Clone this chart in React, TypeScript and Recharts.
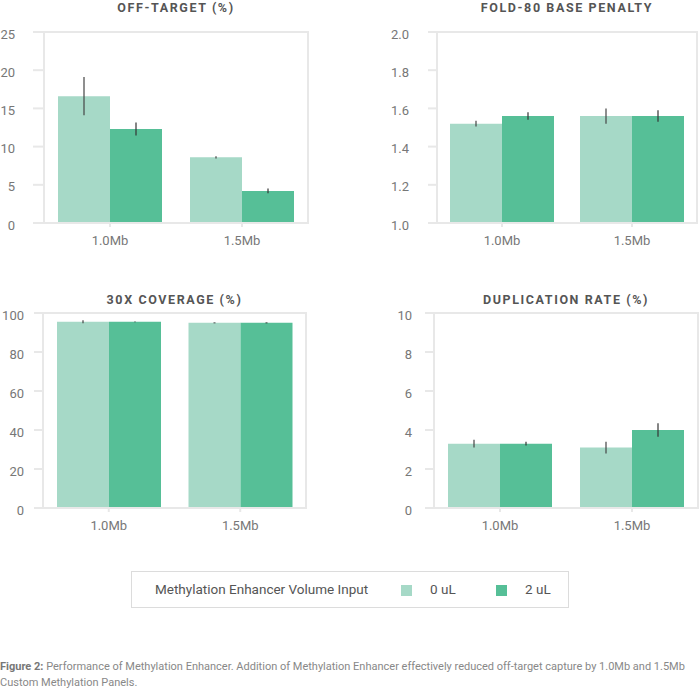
import React from "react";
import { BarChart, Bar, XAxis, YAxis, ErrorBar, ReferenceArea } from "recharts";

const categories = ["1.0Mb", "1.5Mb"];

const offTarget0 = [16.6, 8.6];
const offTarget0Err = [2.5, 0.15];
const offTarget2 = [12.3, 4.2];
const offTarget2Err = [0.85, 0.3];

const fold0 = [1.52, 1.56];
const fold0Err = [0.015, 0.04];
const fold2 = [1.56, 1.56];
const fold2Err = [0.02, 0.03];

const coverage0 = [95.5, 95];
const coverage0Err = [0.8, 0.4];
const coverage2 = [95.5, 95];
const coverage2Err = [0.2, 0.4];

const dup0 = [3.3, 3.1];
const dup0Err = [0.2, 0.3];
const dup2 = [3.3, 4.0];
const dup2Err = [0.1, 0.35];

const offTargetTicks = [0, 5, 10, 15, 20, 25];
const foldTicks = [1.0, 1.2, 1.4, 1.6, 1.8, 2.0];
const coverageTicks = [0, 20, 40, 60, 80, 100];
const dupTicks = [0, 2, 4, 6, 8, 10];

const LIGHT = "#a6d9c7";
const DARK = "#56bf97";
const FRAME = "#e8e8e8";
const FONT = "Roboto, sans-serif";

const build = (a: number[], ae: number[], b: number[], be: number[]) =>
  categories.map((name, i) => ({ name, v0: a[i], e0: ae[i], v2: b[i], e2: be[i] }));

type PanelProps = {
  title: string;
  titleTop: number;
  left: number;
  top: number;
  data: any[];
  ticks: number[];
  fmt?: (v: number) => string;
  yWidth: number;
  tickSize: number;
  tickMargin: number;
  marginTop: number;
  marginRight: number;
  marginBottom: number;
};

const W = 350;
const H = 260;

const Panel = (p: PanelProps) => {
  const lo = p.ticks[0];
  const hi = p.ticks[p.ticks.length - 1];
  const plotLeft = p.yWidth;
  const plotRight = W - p.marginRight;
  return (
    <div style={{ position: "absolute", left: p.left, top: p.top, width: W, height: H }}>
      <div
        style={{
          position: "absolute",
          top: p.titleTop,
          left: plotLeft,
          width: plotRight - plotLeft,
          textAlign: "center",
          fontWeight: 700,
          fontSize: 12.5,
          letterSpacing: 1.6,
          color: "#555",
          fontFamily: FONT,
        }}
      >
        {p.title}
      </div>
      <BarChart
        width={W}
        height={H}
        data={p.data}
        barSize={52}
        barGap={0}
        margin={{ top: p.marginTop, right: p.marginRight, left: 0, bottom: p.marginBottom }}
      >
        <ReferenceArea y1={lo} y2={hi} fill="none" stroke={FRAME} strokeWidth={2} />
        <XAxis
          dataKey="name"
          height={30}
          tickSize={4}
          tickMargin={9}
          axisLine={{ stroke: FRAME, strokeWidth: 2 }}
          tickLine={{ stroke: FRAME, strokeWidth: 2 }}
          tick={{ fill: "#777", fontSize: 13, fontFamily: FONT }}
        />
        <YAxis
          width={p.yWidth}
          domain={[lo, hi]}
          ticks={p.ticks}
          interval={0}
          tickFormatter={p.fmt}
          tickSize={p.tickSize}
          tickMargin={p.tickMargin}
          axisLine={{ stroke: FRAME, strokeWidth: 2 }}
          tickLine={{ stroke: FRAME, strokeWidth: 2 }}
          tick={{ fill: "#777", fontSize: 13, fontFamily: FONT, dy: 2 }}
        />
        <Bar dataKey="v0" fill={LIGHT} isAnimationActive={false}>
          <ErrorBar dataKey="e0" width={0} stroke="#444" strokeOpacity={0.6} strokeWidth={2} direction="y" />
        </Bar>
        <Bar dataKey="v2" fill={DARK} isAnimationActive={false}>
          <ErrorBar dataKey="e2" width={0} stroke="#333" strokeOpacity={0.6} strokeWidth={2} direction="y" />
        </Bar>
      </BarChart>
    </div>
  );
};

const App = () => {
  return (
    <div
      style={{
        position: "absolute",
        left: 0,
        top: 0,
        width: 700,
        height: 696,
        background: "#fff",
        fontFamily: FONT,
        overflow: "hidden",
      }}
    >
      <Panel
        title="OFF-TARGET (%)"
        titleTop={0}
        left={0}
        top={0}
        data={build(offTarget0, offTarget0Err, offTarget2, offTarget2Err)}
        ticks={offTargetTicks}
        yWidth={44}
        tickSize={11}
        tickMargin={18}
        marginTop={32}
        marginRight={42}
        marginBottom={7}
      />
      <Panel
        title="FOLD-80 BASE PENALTY"
        titleTop={0}
        left={350}
        top={0}
        data={build(fold0, fold0Err, fold2, fold2Err)}
        ticks={foldTicks}
        fmt={(v) => v.toFixed(1)}
        yWidth={87}
        tickSize={9}
        tickMargin={19}
        marginTop={32}
        marginRight={3}
        marginBottom={7}
      />
      <Panel
        title="30X COVERAGE (%)"
        titleTop={12}
        left={0}
        top={280}
        data={build(coverage0, coverage0Err, coverage2, coverage2Err)}
        ticks={coverageTicks}
        yWidth={43}
        tickSize={9}
        tickMargin={10}
        marginTop={33}
        marginRight={44}
        marginBottom={2}
      />
      <Panel
        title="DUPLICATION RATE (%)"
        titleTop={12}
        left={350}
        top={280}
        data={build(dup0, dup0Err, dup2, dup2Err)}
        ticks={dupTicks}
        yWidth={84}
        tickSize={9}
        tickMargin={13}
        marginTop={33}
        marginRight={2}
        marginBottom={2}
      />

      <div
        style={{
          position: "absolute",
          left: 131,
          top: 571,
          width: 436,
          height: 35,
          border: "1px solid #dcdcdc",
          color: "#555",
          fontSize: 13.5,
        }}
      >
        <span style={{ position: "absolute", left: 23, top: 9 }}>Methylation Enhancer Volume Input</span>
        <span style={{ position: "absolute", left: 269, top: 13, width: 11, height: 11, background: LIGHT }} />
        <span style={{ position: "absolute", left: 298, top: 9 }}>0 uL</span>
        <span style={{ position: "absolute", left: 364, top: 13, width: 11, height: 11, background: DARK }} />
        <span style={{ position: "absolute", left: 393, top: 9 }}>2 uL</span>
      </div>

      <div
        style={{
          position: "absolute",
          left: 0,
          top: 659,
          width: 700,
          fontSize: 11,
          lineHeight: "16px",
          color: "#888",
          whiteSpace: "nowrap",
        }}
      >
        <div>
          <span style={{ fontWeight: 700, color: "#777" }}>Figure 2:</span> Performance of Methylation Enhancer.
          Addition of Methylation Enhancer effectively reduced off-target capture by 1.0Mb and 1.5Mb
        </div>
        <div>Custom Methylation Panels.</div>
      </div>
    </div>
  );
};

export default App;
